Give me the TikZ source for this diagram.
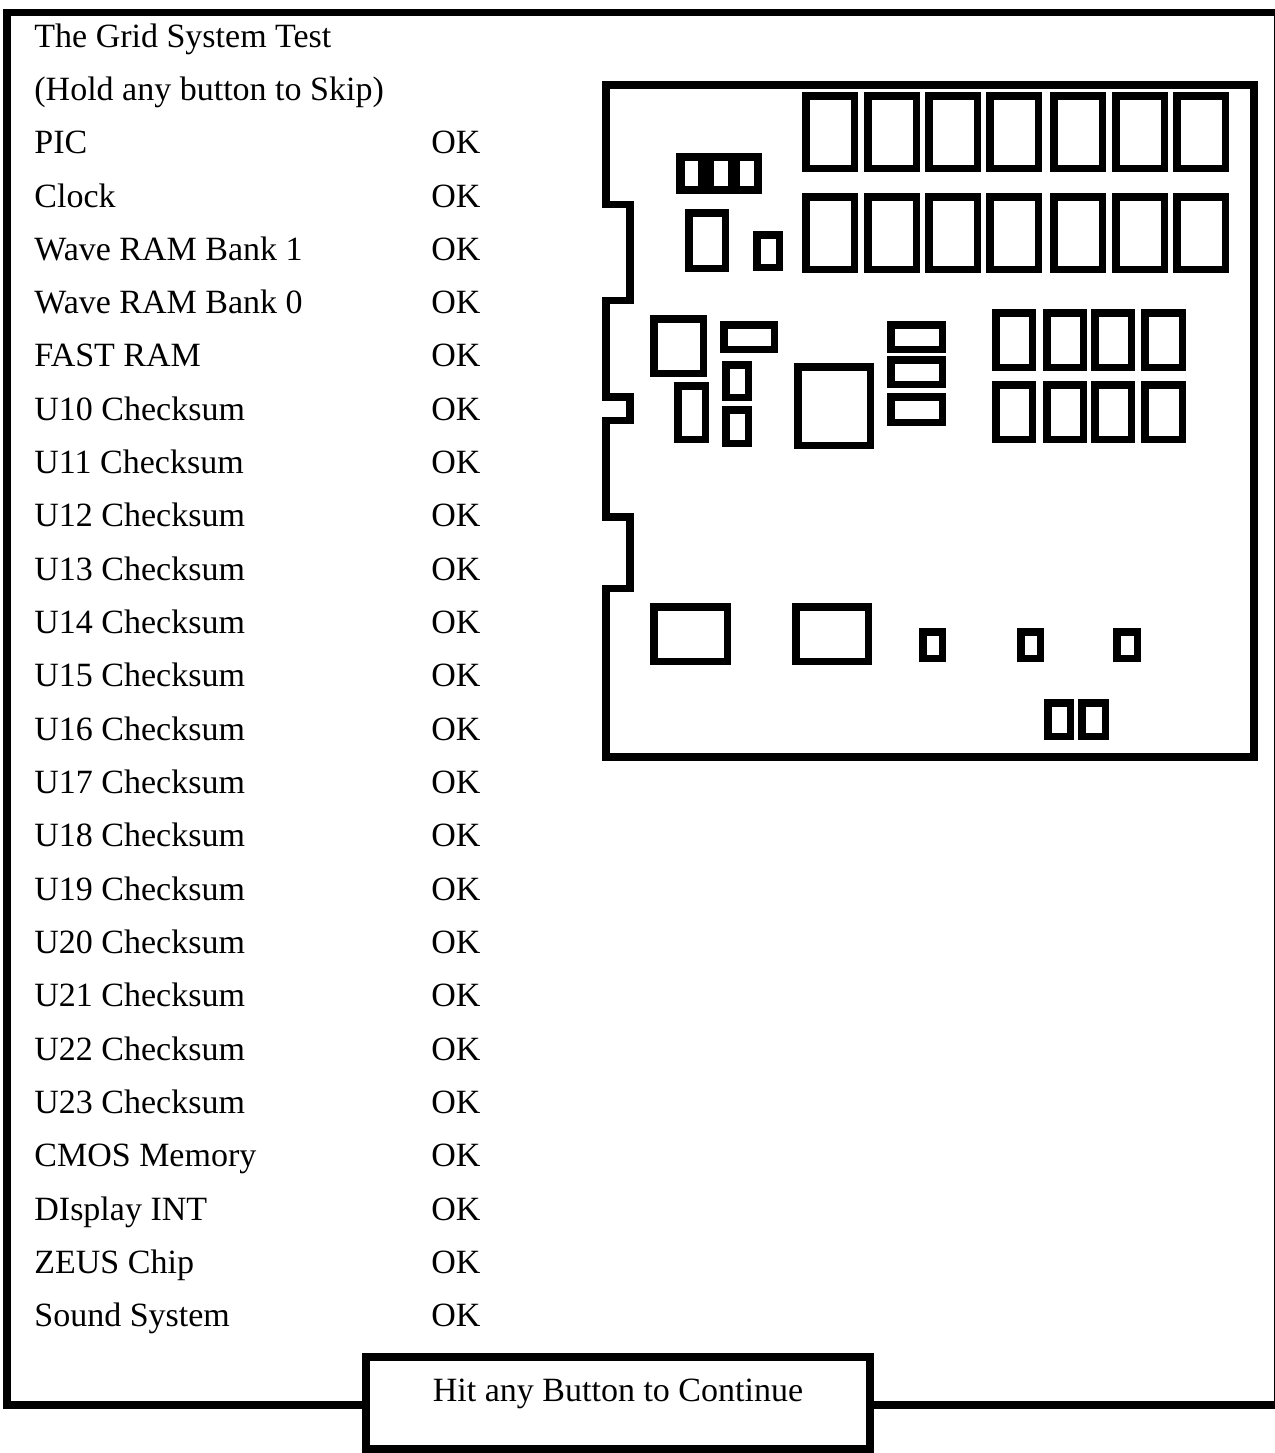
\documentclass[tikz,border=0pt]{standalone}
\usepackage{fontspec}
\setmainfont{Liberation Serif}
\begin{document}
\begin{tikzpicture}[x=0.5pt,y=-0.5pt,
  thick line/.style={line width=3.75pt,line join=miter,line cap=rect},
  chip/.style={thick line},
  label/.style={anchor=base west,inner sep=0pt,font=\fontsize{17}{20}\selectfont},
  okstyle/.style={anchor=base west,inner sep=0pt,font=\fontsize{17}{20}\selectfont}]
\newcommand\chipbox[4]{\draw[chip] ([shift={(3.75,3.75)}]#1,#2) rectangle ([shift={(-3.75,-3.75)}]#3,#4);}
\useasboundingbox (0,0) rectangle (1275,1453);
% outer frame
\draw[thick line] (870,1405) -- (1278,1405) -- (1278,12.5) -- (7,12.5) -- (7,1405) -- (366,1405);
% continue button
\node[draw,fill=white,line width=3.75pt,minimum width=252pt,minimum height=46pt,inner sep=0pt] (contbox) at (618,1403) {};
\node[anchor=base,inner sep=0pt,font=\fontsize{17}{20}\selectfont] (conttext) at (618,1401) {Hit any Button to Continue};
% text rows
\foreach \t [count=\i from 0] in {The Grid System Test,{(Hold any button to Skip)},PIC,Clock,Wave RAM Bank 1,Wave RAM Bank 0,FAST RAM,U10 Checksum,U11 Checksum,U12 Checksum,U13 Checksum,U14 Checksum,U15 Checksum,U16 Checksum,U17 Checksum,U18 Checksum,U19 Checksum,U20 Checksum,U21 Checksum,U22 Checksum,U23 Checksum,CMOS Memory,DIsplay INT,ZEUS Chip,Sound System}{
  \node[label] (row\i) at (34,{47+53.33*\i}) {\t};
  \ifnum\i>1
    \node[okstyle] (ok\i) at (431,{47+53.33*\i}) {OK};
  \fi
}
% board outline
\draw[thick line] (606,85) -- (1254,85) -- (1254,757) -- (606,757) -- (606,588.5) -- (630,588.5) -- (630,517) -- (606,517) -- (606,420.5) -- (630,420.5) -- (630,397) -- (606,397) -- (606,300.5) -- (630,300.5) -- (630,204.5) -- (606,204.5) -- cycle;
% memory rows
\foreach \a/\b in {802/858,864/920,925/981,986/1042,1050/1106,1112/1168,1173/1229}{
  \chipbox{\a}{92}{\b}{172}
  \chipbox{\a}{193}{\b}{273}
}
% three-window chip
\fill (676,153) rectangle (762,194);
\fill[white] (685,161) rectangle (698,186);
\fill[white] (714,161) rectangle (728,186);
\fill[white] (740,161) rectangle (754,186);
\chipbox{685}{209}{729}{272}
\chipbox{753}{231}{783}{271}
% middle group
\chipbox{650}{315}{707}{377}
\chipbox{720}{321}{778}{353}
\chipbox{722}{361}{752}{401}
\chipbox{722}{406}{752}{447}
\chipbox{674}{382}{709}{443}
\chipbox{794}{363}{874}{449}
\chipbox{887}{321}{946}{353}
\chipbox{887}{356}{946}{388}
\chipbox{887}{393}{946}{426}
\foreach \a/\b in {992/1036,1043/1087,1091/1135,1141/1186}{
  \chipbox{\a}{309}{\b}{371}
  \chipbox{\a}{381}{\b}{443}
}
% bottom group
\chipbox{650}{603}{731}{665}
\chipbox{792}{603}{872}{665}
\chipbox{919}{628}{946}{662}
\chipbox{1017}{628}{1044}{662}
\chipbox{1113}{628}{1141}{662}
\chipbox{1044}{699}{1074}{740}
\chipbox{1078}{699}{1109}{740}
\end{tikzpicture}
\end{document}
